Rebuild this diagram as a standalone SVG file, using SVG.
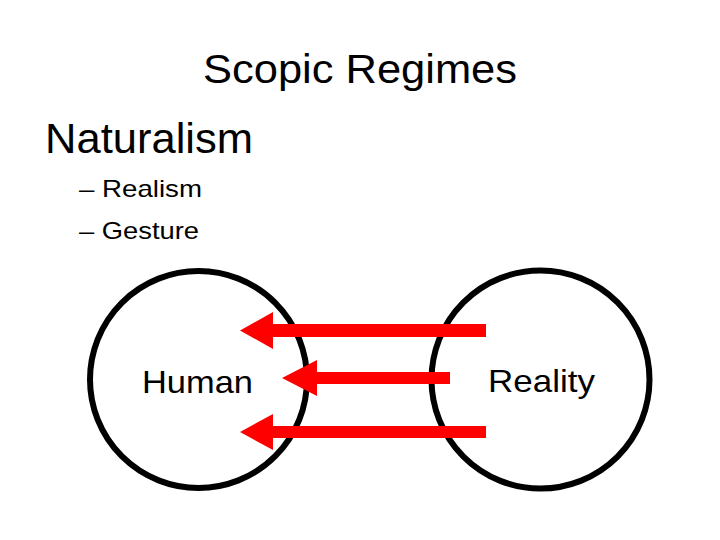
<svg xmlns="http://www.w3.org/2000/svg" width="720" height="540" viewBox="0 0 720 540">
<style>
text{font-family:"Liberation Sans",Arial,sans-serif;fill:#000}
.node circle{fill:none;stroke:#000;stroke-width:6}
.arrow{fill:#FF0000}
</style>
<rect width="720" height="540" fill="#fff"/>
<g id="title"><text x="203" y="83" font-size="40" textLength="314" lengthAdjust="spacingAndGlyphs">Scopic Regimes</text></g>
<g id="bullets">
<text x="45" y="153" font-size="42" textLength="208" lengthAdjust="spacingAndGlyphs">Naturalism</text>
<text x="79" y="197" font-size="24" textLength="123" lengthAdjust="spacingAndGlyphs">– Realism</text>
<text x="79" y="239" font-size="24" textLength="120" lengthAdjust="spacingAndGlyphs">– Gesture</text>
</g>
<g id="human" class="node">
<circle cx="198.5" cy="379.5" r="108.5"/>
<text x="142" y="393" font-size="32" textLength="111" lengthAdjust="spacingAndGlyphs">Human</text>
</g>
<g id="reality" class="node">
<circle cx="540.5" cy="379.5" r="109"/>
<text x="488" y="392" font-size="32" textLength="107" lengthAdjust="spacingAndGlyphs">Reality</text>
</g>
<g id="connectors">
<polygon class="arrow" points="486,324 273,324 273,312 240,330.5 273,349 273,337 486,337"/>
<polygon class="arrow" points="450,372 317,372 317,360 282,378 317,396 317,384 450,384"/>
<polygon class="arrow" points="486,426 273,426 273,414 240,432 273,450 273,438 486,438"/>
</g>
</svg>
